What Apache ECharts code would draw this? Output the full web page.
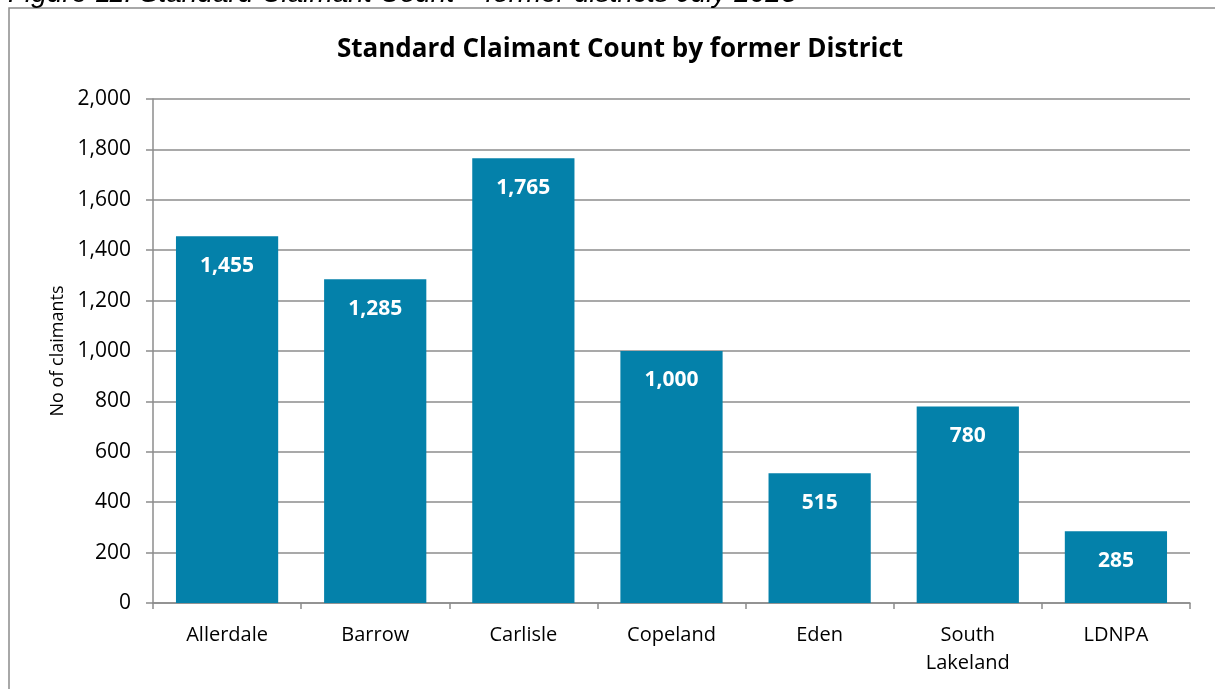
<!DOCTYPE html>
<html>
<head>
<meta charset="utf-8">
<script src="https://cdn.jsdelivr.net/npm/echarts@6/dist/echarts.min.js"></script>
<style>
html,body{margin:0;padding:0;background:#fff;}
#chart{width:1215px;height:689px;}
</style>
</head>
<body>
<div id="chart"></div>
<script>
const categories = ["Allerdale", "Barrow", "Carlisle", "Copeland", "Eden", "South\nLakeland", "LDNPA"];
const claimants = [1455, 1285, 1765, 1000, 515, 780, 285];
const yTicks = { min: 0, max: 2000, interval: 200 };

const fmt = v => v.toLocaleString('en-GB');
const FONT = '"Open Sans", sans-serif';

const chart = echarts.init(document.getElementById('chart'), null, { renderer: 'canvas' });
chart.setOption({
  animation: false,
  backgroundColor: '#fff',
  title: {
    text: 'Standard Claimant Count by former District',
    left: 615, top: 32, textAlign: 'center',
    textStyle: { fontFamily: FONT, fontWeight: 'bold', fontSize: 26, color: '#000' }
  },
  graphic: [
    { type: 'rect', shape: { x: 9, y: 8, width: 1400, height: 900 },
      style: { fill: null, stroke: '#8c8c8c', lineWidth: 1.5 }, silent: true },
    { type: 'text', x: 8, y: 8,
      style: { text: 'Figure 11: Standard Claimant Count – former districts July 2023',
        font: 'italic 28px "Liberation Sans", Arial, sans-serif', fill: '#000', verticalAlign: 'bottom' } }
  ],
  grid: { left: 153, right: 25, top: 99, bottom: 86, containLabel: false },
  xAxis: {
    type: 'category', data: categories,
    axisLine: { lineStyle: { color: '#8c8c8c', width: 1.5 } },
    axisTick: { show: true, alignWithLabel: false, length: 6, lineStyle: { color: '#8c8c8c', width: 1.5 } },
    axisLabel: { fontFamily: FONT, fontSize: 20, color: '#000', margin: 18, lineHeight: 28 }
  },
  yAxis: {
    type: 'value', min: yTicks.min, max: yTicks.max, interval: yTicks.interval,
    name: 'No of claimants', nameLocation: 'middle', nameGap: 84, nameRotate: 90,
    nameTextStyle: { fontFamily: FONT, fontSize: 18, color: '#000' },
    axisLine: { show: true, lineStyle: { color: '#8c8c8c', width: 1.5 } },
    axisTick: { show: true, length: 7, lineStyle: { color: '#8c8c8c', width: 1.5 } },
    axisLabel: { fontFamily: FONT, fontSize: 21, color: '#000', margin: 22, formatter: v => fmt(v) },
    splitLine: { show: true, lineStyle: { color: '#8c8c8c', width: 1.5 } }
  },
  series: [{
    type: 'bar', data: claimants, barCategoryGap: '31%',
    itemStyle: { color: '#0481AA' },
    label: { show: true, position: 'insideTop', distance: 19, color: '#fff',
      fontFamily: FONT, fontWeight: 'bold', fontSize: 21, formatter: p => fmt(p.value) }
  }]
});
</script>
</body>
</html>
